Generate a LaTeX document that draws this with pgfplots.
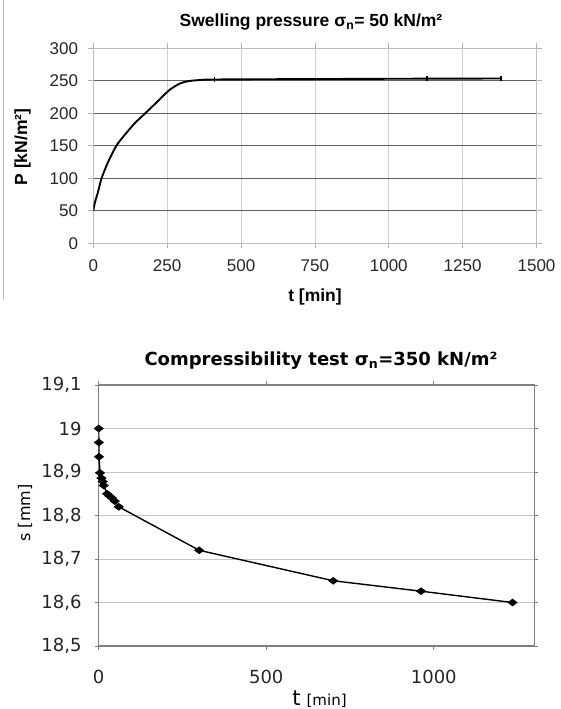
\documentclass[border=0pt]{standalone}
\usepackage{fontspec}
\setmainfont{Liberation Sans}
\newfontfamily\dejavu{DejaVu Sans}
\usepackage{pgfplots}
\usepackage{pgfplotstable}
\pgfplotsset{compat=1.18}
\pgfplotstableread{
t P
0 50
4 60
8 67
16 79
28 100
50 125
78 150
105 166
139 184
178 201
217 218
239 228
261 237
294 246
322 249.5
355 251
411 252
700 252.6
1130 253.3
1380 253.5
}\swelling
\pgfplotstableread{
t P
411 252
1130 253.3
1380 253.5
}\swellmarks
\pgfplotstableread{
t s
0 19.0
0.5 18.968
1 18.935
4 18.898
8 18.886
12 18.878
15 18.869
25 18.850
32 18.845
40 18.840
48 18.833
60 18.820
300 18.720
700 18.650
962 18.626
1235 18.600
}\compress
\begin{document}
\begin{tikzpicture}[x=1pt,y=1pt]
\useasboundingbox (0,0) rectangle (560,-709);
\draw[black!25, line width=1pt] (3.5,0) -- (3.5,-300);
\begin{axis}[
  at={(93.3pt,-243.3pt)}, anchor=south west, scale only axis,
  width=443.2pt, height=195pt,
  xmin=0, xmax=1500, ymin=0, ymax=300,
  xtick={0,250,500,750,1000,1250,1500},
  ytick={0,50,100,150,200,250,300},
  axis line style={draw=black!25, line width=1pt},
  tick style={draw=black!30, line width=0.8pt},
  tick align=outside, major tick length=5pt,
  xmajorgrids, ymajorgrids,
  x grid style={black!18, line width=0.8pt},
  y grid style={black!62, line width=1.1pt},
  /pgf/number format/assume math mode=true,
  /pgf/number format/set thousands separator={},
  tick label style={font=\fontsize{17}{17}\selectfont, text=black!85},
  yticklabel style={inner sep=0pt, xshift=-10pt},
  xticklabel style={inner sep=0pt, yshift=-11pt},
]
\addplot[black, line width=1.9pt, smooth, tension=0.5] table[x=t, y=P] {\swelling};
\addplot[black, only marks, mark=|, mark size=2.5pt, mark options={line width=1.4pt}] table[x=t, y=P] {\swellmarks};
\end{axis}
\node[font=\bfseries\fontsize{17.5}{20}\selectfont] at (311,-22) {Swelling pressure σ\textsubscript{n}= 50 kN/m²};
\node[rotate=90, font=\bfseries\fontsize{17.5}{20}\selectfont] at (22.5,-147) {P [kN/m²]};
\node[font=\bfseries\fontsize{17.5}{20}\selectfont] at (315,-297) {t [min]};
\begin{axis}[
  at={(98.7pt,-646pt)}, anchor=south west, scale only axis,
  width=435.6pt, height=261pt,
  xmin=0, xmax=1300, ymin=18.5, ymax=19.1,
  xtick={0,500,1000},
  ytick={18.5,18.6,18.7,18.8,18.9,19,19.1},
  yticklabels={{18,5},{18,6},{18,7},{18,8},{18,9},{19},{19,1}},
  axis line style={draw=black!50, line width=1.4pt},
  tick style={draw=black!50, line width=0.8pt},
  tick align=outside, major tick length=4pt,
  ymajorgrids,
  y grid style={black!22, line width=1pt},
  /pgf/number format/assume math mode=true,
  /pgf/number format/set thousands separator={},
  tick label style={font=\dejavu\fontsize{18}{18}\selectfont, text=black!85},
  yticklabel style={inner sep=0pt, xshift=-13pt},
  xticklabel style={inner sep=0pt, yshift=-20pt},
]
\addplot[black, line width=1.4pt, mark=diamond*, mark size=4pt, mark options={rotate=90, solid}] table[x=t, y=s] {\compress};
\end{axis}
\node[font=\dejavu\bfseries\fontsize{18}{20}\selectfont] at (321,-361) {Compressibility test σ\textsubscript{n}=350 kN/m²};
\node[rotate=90, font=\dejavu\fontsize{16}{18}\selectfont] at (25,-513) {s [mm]};
\node[font=\dejavu] at (319.5,-699) {{\fontsize{21}{21}\selectfont t}\hspace{6pt}{\fontsize{15}{15}\selectfont [min]}};
\end{tikzpicture}
\end{document}
